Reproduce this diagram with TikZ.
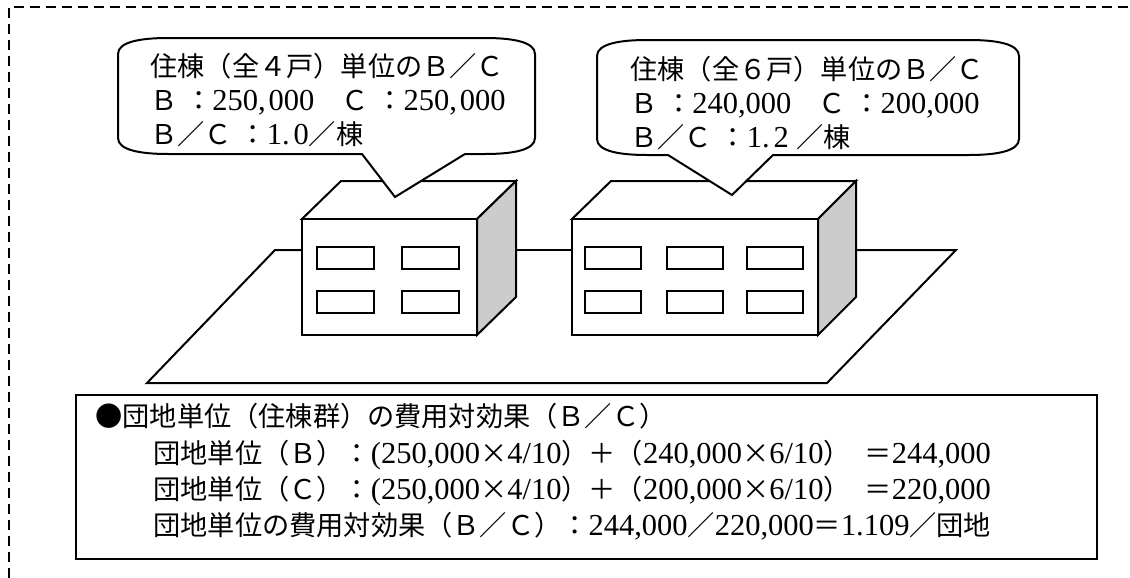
\documentclass[tikz,border=0pt]{standalone}
\usepackage{fontspec}
\setmainfont{Liberation Serif}[Scale=1.12]
\newfontfamily\jp{Noto Sans CJK JP}
\usepackage{tikz}
\usetikzlibrary{positioning}
\definecolor{SideGray}{HTML}{CCCCCC}

\begin{document}
\begin{tikzpicture}[x=0.5pt,y=-0.5pt,line join=miter,
  outline/.style={draw=black,line width=1pt},
  win/.style={draw=black,line width=1pt,fill=white},
  bubble/.style={draw=black,line width=1pt,fill=white},
  frame/.style={draw=black,line width=0.8pt,dash pattern=on 5pt off 3pt},
  txt/.style={anchor=west,inner sep=0pt,align=left,font=\fontsize{13.6}{17}\selectfont}]
\useasboundingbox (0,0) rectangle (1130,578);
\draw[frame] (9,578) -- (9,7) -- (1130,7);

% ground plate
\draw[outline] (302,250) -- (275,250) -- (147,383) -- (827,383) -- (956,250) -- (856,250);
\draw[outline] (516,250) -- (572,250);

% building with four dwellings
\draw[outline,fill=white] (302,219) -- (341,181) -- (516,181) -- (477,219) -- cycle;
\draw[outline,fill=SideGray] (477,219) -- (516,181) -- (516,297) -- (477,335) -- cycle;
\draw[outline,fill=white] (302,219) rectangle (477,335);
\foreach \x in {317,402}
  \foreach \y in {247,291}
    \draw[win] (\x,\y) rectangle ++(57,22);

% building with six dwellings
\draw[outline,fill=white] (572,219) -- (611,181) -- (856,181) -- (818,219) -- cycle;
\draw[outline,fill=SideGray] (818,219) -- (856,181) -- (856,297) -- (818,335) -- cycle;
\draw[outline,fill=white] (572,219) rectangle (818,335);
\foreach \x in {585,667,747}
  \foreach \y in {247,291}
    \draw[win] (\x,\y) rectangle ++(56,22);

% callouts
\draw[bubble] (168,38) -- (485,38) .. controls (513,38) and (535,42) .. (535,54)
  -- (535,138) .. controls (535,150) and (513,154) .. (485,154)
  -- (465,154) -- (395,197) -- (362,154) -- (168,154)
  .. controls (140,154) and (118,150) .. (118,138)
  -- (118,54) .. controls (118,42) and (140,38) .. (168,38) -- cycle;
\draw[bubble] (647,40) -- (969,40) .. controls (997,40) and (1019,44) .. (1019,56)
  -- (1019,139) .. controls (1019,151) and (997,155) .. (969,155)
  -- (773,155) -- (732,195) -- (668,155) -- (647,155)
  .. controls (619,155) and (597,151) .. (597,139)
  -- (597,56) .. controls (597,44) and (619,40) .. (647,40) -- cycle;

\node[txt] (unitA) at (150,100) {{\jp 住棟（全４戸）単位のＢ／Ｃ}\\
  {\jp Ｂ} {\jp ：}250,\hspace{1.5pt}000{\jp 　Ｃ} {\jp ：}250,\hspace{1.5pt}000\\
  {\jp Ｂ／Ｃ} {\jp ：}1.\hspace{2pt}0{\jp ／棟}};
\node[txt] (unitB) at (630,103) {{\jp 住棟（全６戸）単位のＢ／Ｃ}\\
  {\jp Ｂ} {\jp ：}240,000{\jp 　Ｃ} {\jp ：}200,000\\
  {\jp Ｂ／Ｃ} {\jp ：}1.\hspace{2pt}2 {\jp ／棟}};

% estate summary
\draw[outline,line width=1.2pt] (76,395) rectangle (1097,559);
\node[txt,font=\fontsize{13.6}{18.15}\selectfont] (estate) at (95,472) {{\jp ●団地単位（住棟群）の費用対効果（Ｂ／Ｃ）}\\
  \hspace*{29pt}{\jp 団地単位（Ｂ）：}(250,000{\jp ×}4/10{\jp ）＋（}240,000{\jp ×}6/10{\jp ）}\hspace{7pt}{\jp ＝}244,000\\
  \hspace*{29pt}{\jp 団地単位（Ｃ）：}(250,000{\jp ×}4/10{\jp ）＋（}200,000{\jp ×}6/10{\jp ）}\hspace{7pt}{\jp ＝}220,000\\
  \hspace*{29pt}{\jp 団地単位の費用対効果（Ｂ／Ｃ）：}244,000{\jp ／}220,000{\jp ＝}1.109{\jp ／団地}};
\end{tikzpicture}
\end{document}
